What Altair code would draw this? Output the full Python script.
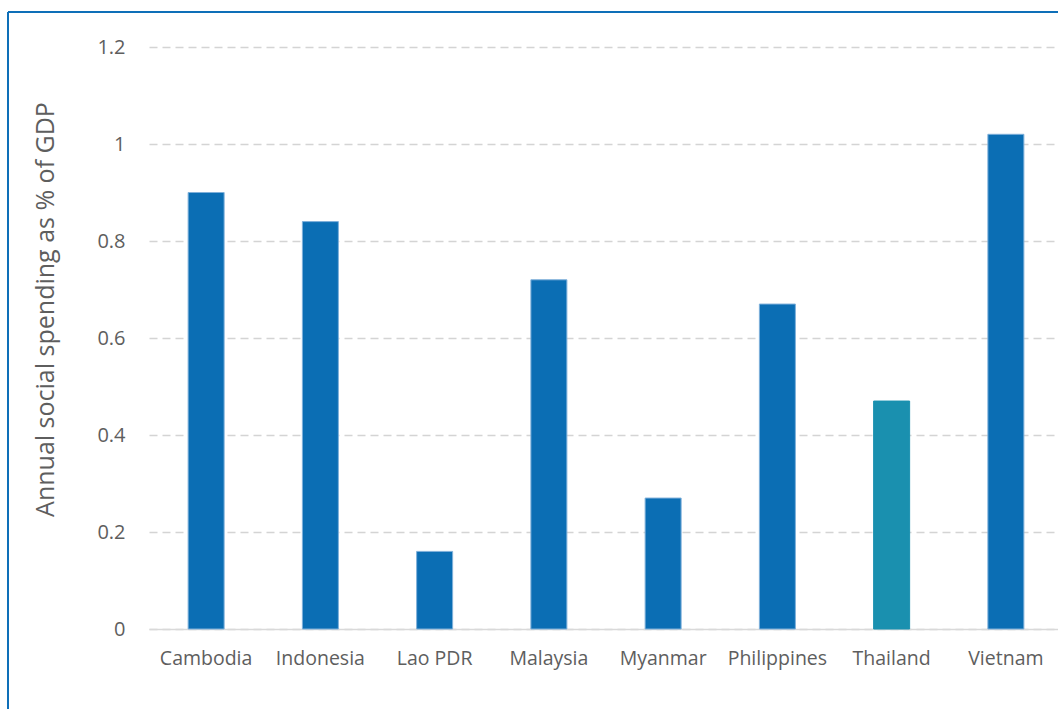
import altair as alt
import pandas as pd

countries = ["Cambodia", "Indonesia", "Lao PDR", "Malaysia", "Myanmar",
             "Philippines", "Thailand", "Vietnam"]
values = [0.90, 0.84, 0.16, 0.72, 0.27, 0.67, 0.47, 1.02]
highlight = ["Thailand"]

df = pd.DataFrame({"country": countries, "value": values})
df["group"] = ["hi" if c in highlight else "base" for c in countries]

FONT = "Open Sans"
GREY = "#5E5E5E"

bars = alt.Chart(df).mark_bar(size=36, strokeWidth=1).encode(
    x=alt.X("country:N", sort=countries, title=None,
            scale=alt.Scale(range=[0, 914], paddingInner=0, paddingOuter=0),
            axis=alt.Axis(labelAngle=0, labelFont=FONT, labelFontSize=19.5,
                          labelColor=GREY, labelPadding=20, ticks=False,
                          domainColor="#D9D9D9", domainWidth=1.5, grid=False)),
    y=alt.Y("value:Q", title="Annual social spending as % of GDP",
            scale=alt.Scale(domain=[0, 1.2], nice=False),
            axis=alt.Axis(values=[0, 0.2, 0.4, 0.6, 0.8, 1.0, 1.2], format="~g",
                          labelFont=FONT, labelFontSize=20, labelColor=GREY,
                          labelPadding=24, ticks=False, domain=False,
                          grid=True, gridColor="#D4D4D4", gridDash=[8, 5],
                          gridWidth=1.5,
                          titleFont=FONT, titleFontSize=25, titleFontWeight="normal",
                          titleColor=GREY, titleX=-104, titleY=262,
                          titleBaseline="middle", titleAngle=-90)),
    color=alt.Color("group:N", legend=None,
                    scale=alt.Scale(domain=["base", "hi"], range=["#0B6EB4", "#1A90AF"])),
    stroke=alt.Color("group:N", legend=None,
                     scale=alt.Scale(domain=["base", "hi"], range=["#7FB0DA", "#1A90AF"])),
)

border_left = alt.Chart(df).mark_rule(color="#0E6FB8", strokeWidth=2).encode(
    x=alt.value(-141), y=alt.value(-35), y2=alt.value(700))
border_top = alt.Chart(df).mark_rule(color="#0E6FB8", strokeWidth=2).encode(
    x=alt.value(-141), x2=alt.value(1000), y=alt.value(-35))

chart = alt.layer(bars, border_left, border_top).properties(
    width=909, height=582,
    autosize=alt.AutoSizeParams(type="none"),
    padding={"left": 149, "top": 47, "right": 0, "bottom": 80},
).configure(background="white").configure_view(strokeWidth=0, stroke="transparent")

chart.save("out.html", embed_options={"renderer": "svg", "actions": False})
